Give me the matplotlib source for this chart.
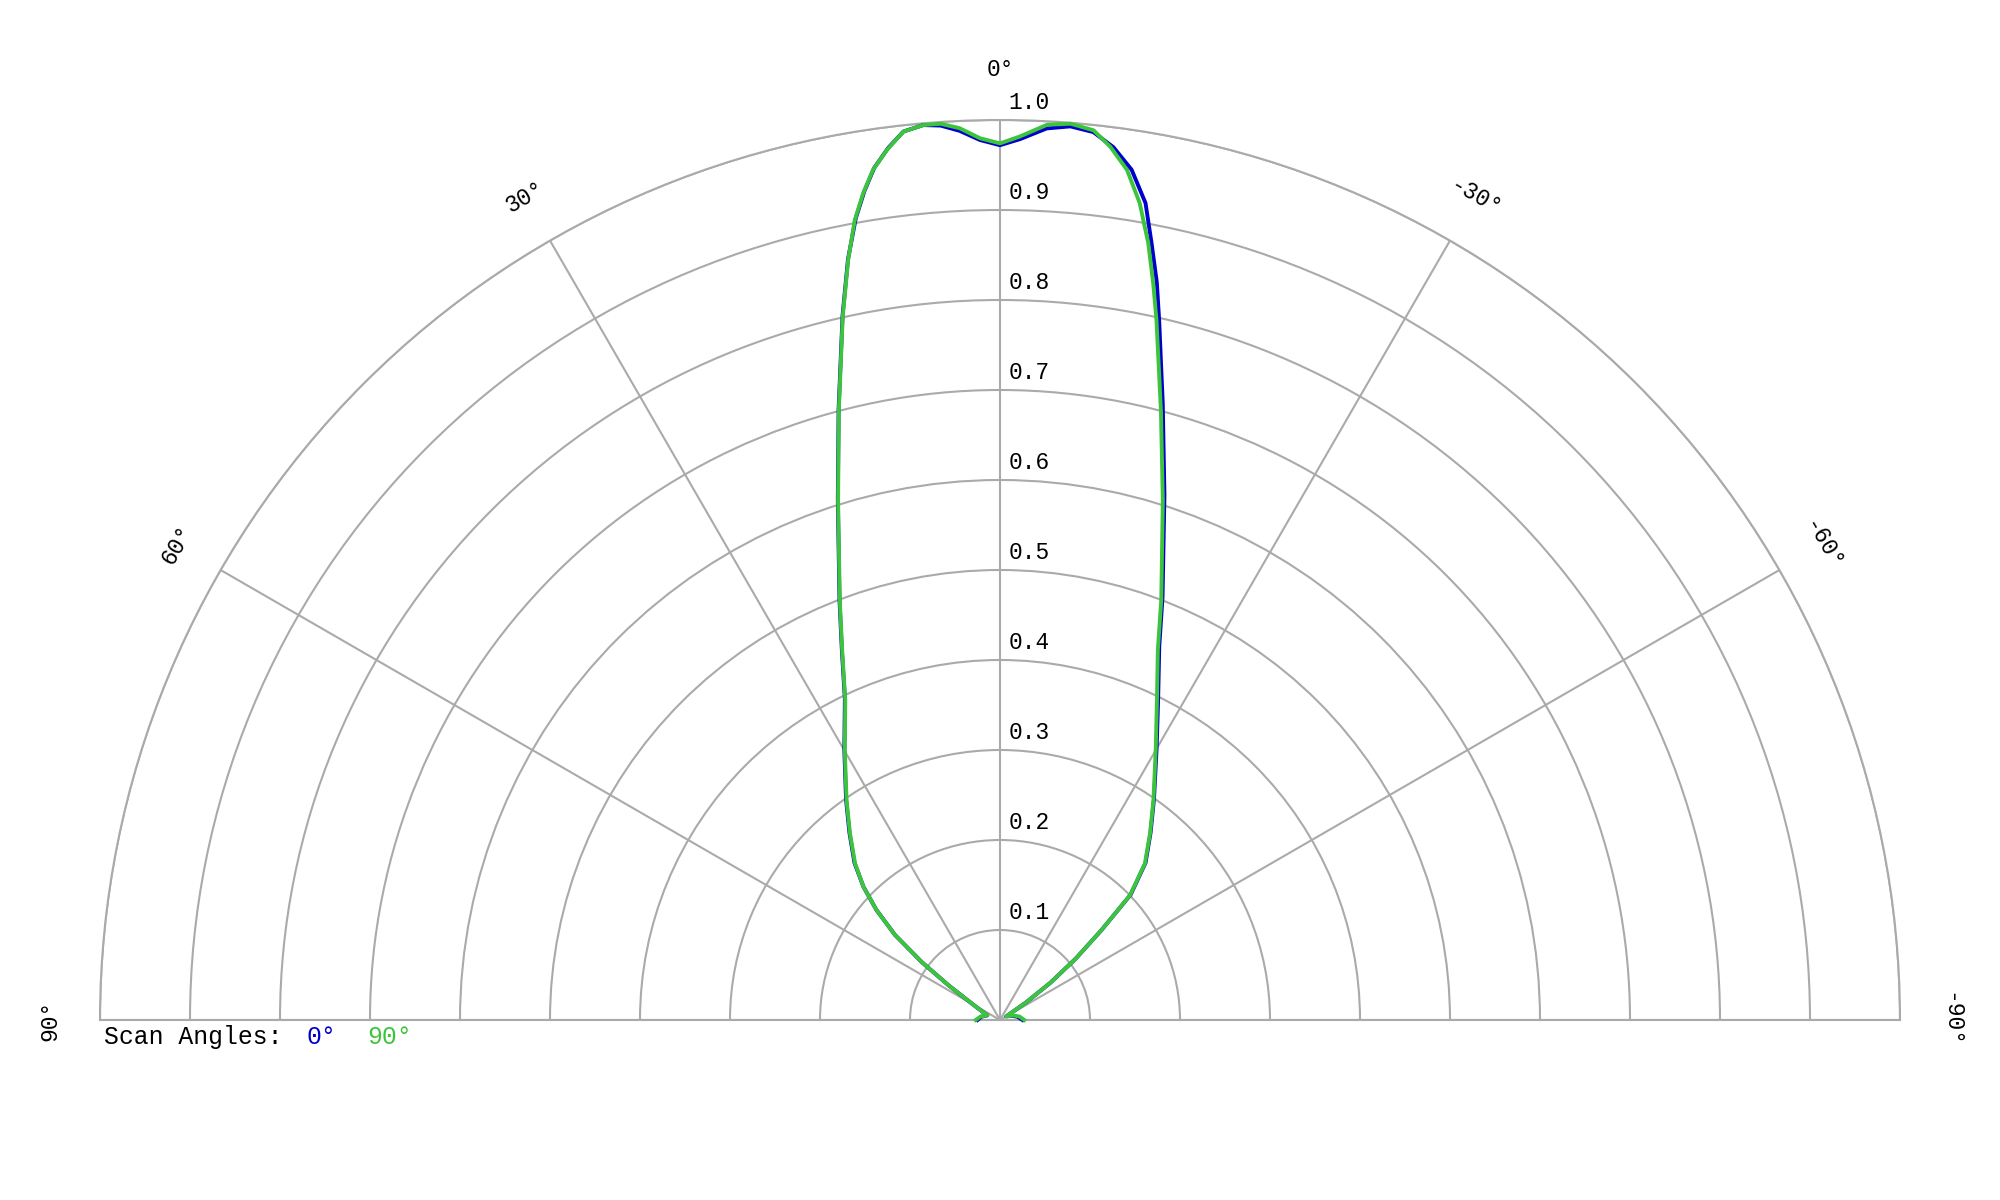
import numpy as np
import matplotlib.pyplot as plt
from matplotlib.transforms import offset_copy

# scan 90 deg (green), angle in degrees (positive = left), normalised intensity
theta_90 = [-90, -80, -70, -60, -56, -53.5, -51, -48.5, -46.2, -42.8, -38.8, -34.9, -30, -26.2,
            -23.1, -21, -17.4, -14.8, -12.6, -11.75, -10.8, -9.7, -8.5, -7.2, -6.0, -4.5,
            -3.0, -1.3, 0,
            1.3, 2.6, 3.8, 4.9, 6.2, 7.4, 8.5, 9.4, 10.3, 11.3, 12.6, 14.8, 17.3, 20.9, 23.1,
            25.8, 29.9, 34.9, 38.8, 42.8, 45.7, 48.3, 51, 53.5, 56, 60, 70, 80, 90]
r_90 = [0.027, 0.022, 0.015, 0.008, 0.035, 0.07, 0.108, 0.15, 0.20, 0.237, 0.266, 0.298,
        0.346, 0.395, 0.447, 0.50, 0.605, 0.70, 0.797, 0.836, 0.879, 0.921, 0.955, 0.978,
        0.994, 0.999, 0.996, 0.982, 0.974,
        0.980, 0.992, 0.998, 0.998, 0.993, 0.975, 0.955, 0.931, 0.903, 0.861, 0.801, 0.701,
        0.605, 0.499, 0.447, 0.395, 0.346, 0.298, 0.266, 0.237, 0.212, 0.184, 0.15, 0.108,
        0.069, 0.035, 0.015, 0.022, 0.027]

# scan 0 deg (blue)
theta_0 = [-90, -80, -70, -60, -56, -53.5, -51, -48.5, -46.2, -42.8, -38.8, -34.9, -30, -26.2,
           -23.1, -21, -17.4, -14.8, -12.8, -12.0, -11.05, -10.1, -8.8, -7.4, -6.0, -4.5,
           -3.0, -1.3, 0,
           1.3, 2.6, 3.8, 4.9, 6.2, 7.3, 8.4, 9.3, 10.2, 11.3, 12.6, 14.8, 17.3, 20.9, 23.1,
           25.8, 29.9, 34.9, 38.8, 42.8, 45.7, 48.3, 51, 53.5, 56, 60, 70, 80, 90]
r_0 = [0.025, 0.02, 0.014, 0.008, 0.035, 0.07, 0.108, 0.15, 0.201, 0.238, 0.267, 0.299,
       0.348, 0.398, 0.451, 0.504, 0.611, 0.708, 0.798, 0.838, 0.879, 0.922, 0.956, 0.978,
       0.992, 0.996, 0.992, 0.979, 0.972,
       0.978, 0.989, 0.996, 0.998, 0.993, 0.977, 0.957, 0.933, 0.905, 0.862, 0.802, 0.702,
       0.606, 0.500, 0.448, 0.396, 0.347, 0.299, 0.267, 0.238, 0.212, 0.184, 0.15, 0.108,
       0.069, 0.035, 0.015, 0.021, 0.025]

r_ticks = [0.1, 0.2, 0.3, 0.4, 0.5, 0.6, 0.7, 0.8, 0.9, 1.0]
angle_ticks = [-90, -60, -30, 0, 30, 60, 90]

font = 'Liberation Mono'
grey = '#aaaaaa'
blue = '#0000cc'
green = '#3cc43c'

fig = plt.figure(figsize=(20, 12), dpi=100)
# polar half-wedge sits centred in a square box: box 1800 px, wedge from y=120 to 1020
ax = fig.add_axes([0.05, -0.225, 0.9, 1.5], projection='polar')
ax.set_theta_zero_location('N')
ax.set_theta_direction(1)
ax.set_thetamin(-90)
ax.set_thetamax(90)
ax.set_ylim(0, 1.0)

ax.set_thetagrids(angle_ticks, labels=[''] * len(angle_ticks))
ax.set_rgrids(r_ticks, labels=[''] * len(r_ticks))
ax.grid(True, color=grey, lw=1.5)
ax.tick_params(length=0)
for s in ax.spines.values():
    s.set_color(grey)
    s.set_linewidth(1.5)

ax.plot(np.deg2rad(theta_0), r_0, color=blue, lw=2.8, clip_on=False, zorder=3,
        solid_joinstyle='round')
ax.plot(np.deg2rad(theta_90), r_90, color=green, lw=2.8, clip_on=False, zorder=4,
        solid_joinstyle='round')

# radial labels along the 0 deg spoke
trans = offset_copy(ax.transData, fig=fig, x=6, y=4, units='points')
for v in r_ticks:
    ax.text(0, v, f'{v:.1f}', transform=trans, ha='left', va='bottom',
            family=font, fontsize=16.5)

# angle labels, rotated tangentially
for a in angle_ticks:
    ax.text(np.deg2rad(a), 1.056, f'{a}°', ha='center', va='center', rotation=a,
            rotation_mode='anchor', family=font, fontsize=16.5, clip_on=False)

fs = 17.8
fig.text(104 / 2000, 1 - 1037 / 1200, 'Scan Angles:', ha='left', va='center',
         family=font, fontsize=fs)
fig.text(306 / 2000, 1 - 1037 / 1200, '0°', color=blue, ha='left', va='center',
         family=font, fontsize=fs)
fig.text(367 / 2000, 1 - 1037 / 1200, '90°', color=green, ha='left', va='center',
         family=font, fontsize=fs)

fig.savefig('out.png', dpi=100, facecolor='white')
